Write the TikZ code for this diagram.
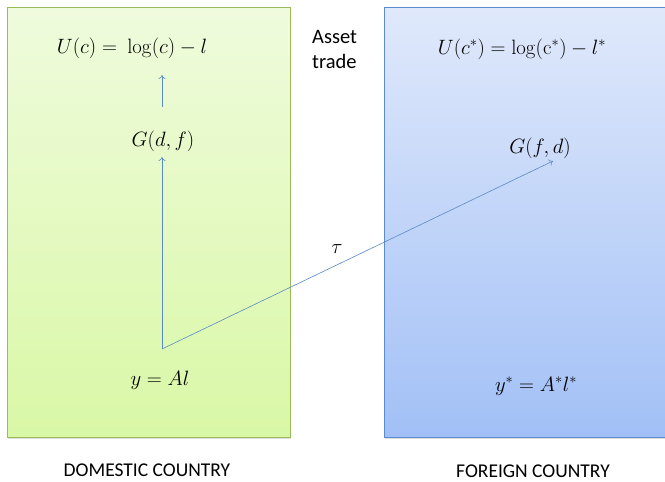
\documentclass[tikz,border=0pt]{standalone}
\usepackage[no-math]{fontspec}
\setmainfont{Carlito}
\usepackage{amsmath}
\usetikzlibrary{shadows,arrows.meta}
\definecolor{gborder}{HTML}{9BBB59}
\definecolor{gtop}{HTML}{EFFBDD}
\definecolor{gbot}{HTML}{D9F8A6}
\definecolor{bborder}{HTML}{5B8BD0}
\definecolor{btop}{HTML}{E0E9FB}
\definecolor{bbot}{HTML}{A2C0F6}
\definecolor{arr}{HTML}{5A8AC6}
\tikzset{
  country/.style={line width=0.8pt, drop shadow={opacity=0.25, shadow xshift=0.8pt, shadow yshift=-1.6pt}},
  eq/.style={font=\fontsize{20.5}{24}\selectfont, inner sep=1pt},
  lbl/.style={font=\fontsize{19.5}{22}\selectfont, inner sep=0pt},
  side/.style={font=\fontsize{20.5}{25}\selectfont, inner sep=1pt},
  flow/.style={draw=arr, line width=0.6pt, -{To[length=4pt,width=7pt]}},
}
\begin{document}
\begin{tikzpicture}[x=1pt,y=-1pt]
\useasboundingbox (0,0) rectangle (665,482);
\fill[white] (0,0) rectangle (665,482);
% boxes
\path[country, draw=gborder, top color=gtop, bottom color=gbot] (7,7) rectangle (290,437);
\path[country, draw=bborder, top color=btop, bottom color=bbot] (384,7) rectangle (672,437);
% texts
\node[eq] (U) at (132,48) {$U(c) =\ \log(c) - l$};
\node[eq] (G) at (163,141) {$G(d,f)$};
\node[eq] (Y) at (160,380) {$y = Al$};
\node[eq] (Us) at (522,49) {$U(c^{*}) = \log(\mathrm{c}^{*}) - l^{*}$};
\node[eq] (Gs) at (540,148) {$G(f,d)$};
\node[eq] (Ys) at (536,386) {$y^{*} = A^{*}l^{*}$};
\node[eq] (tau) at (337,249) {$\tau$};
\node[side, align=left, anchor=west] (asset) at (311,49) {Asset\\trade};
\node[lbl] (dom) at (147,470) {DOMESTIC COUNTRY};
\node[lbl] (for) at (533,471) {FOREIGN COUNTRY};
% connectors
\coordinate (src) at (162,349);
\coordinate (gin) at (162,157);
\coordinate (gout) at (162,107);
\coordinate (uin) at (162,75);
\coordinate (gsin) at (553,161);
\draw[flow] (gout) -- (uin);
\draw[flow] (src) -- (gin);
\draw[flow] (src) -- (gsin);
\end{tikzpicture}
\end{document}
